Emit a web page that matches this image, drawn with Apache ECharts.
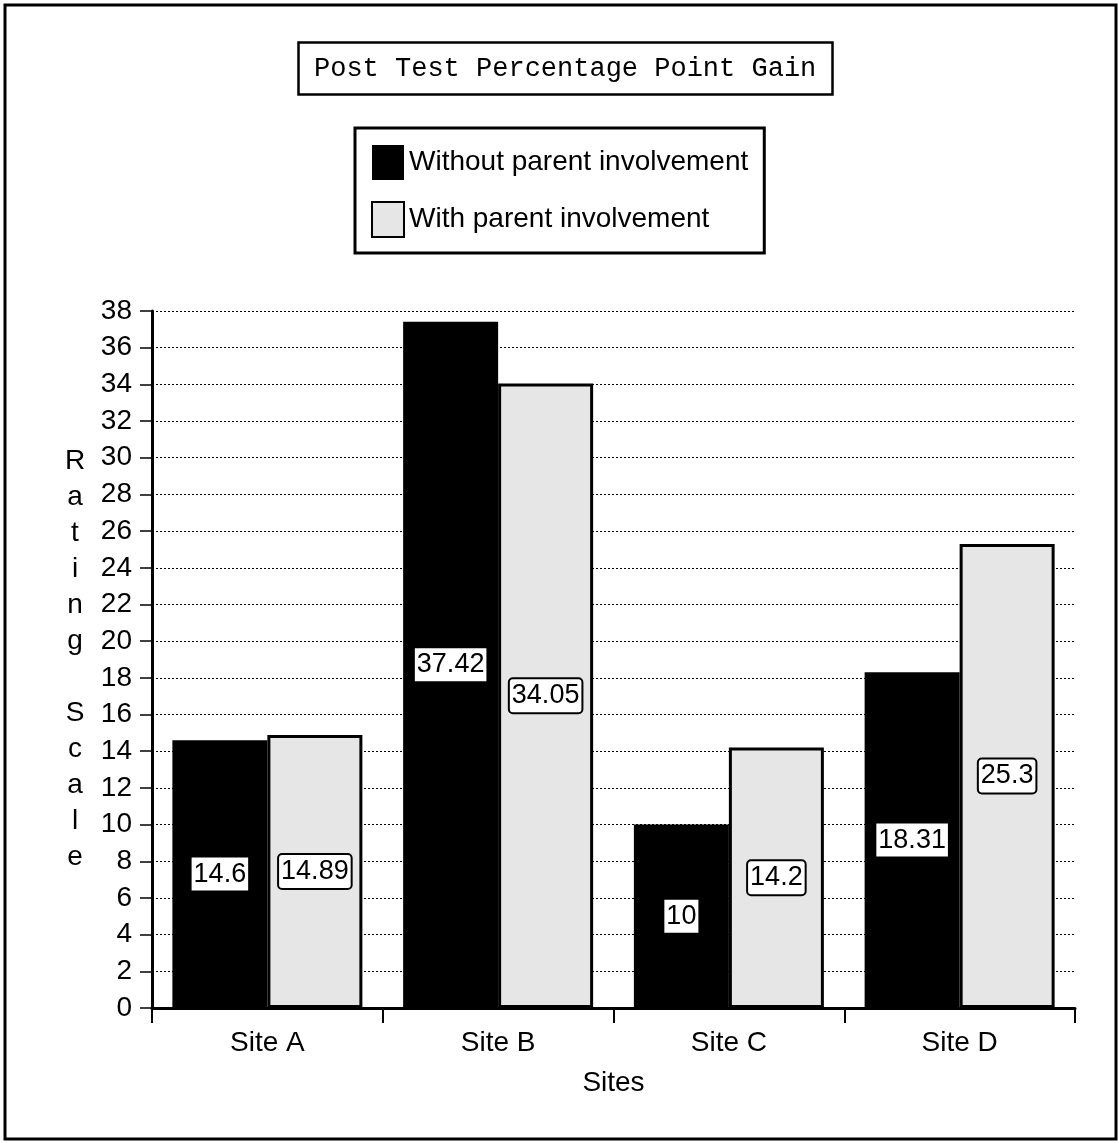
<!DOCTYPE html>
<html>
<head>
<meta charset="utf-8">
<script src="https://cdn.jsdelivr.net/npm/echarts@6/dist/echarts.min.js"></script>
<style>
html,body{margin:0;padding:0;background:#fff;}
#chart{width:1119px;height:1143px;}
</style>
</head>
<body>
<div id="chart"></div>
<script>
const categories = ['Site A', 'Site B', 'Site C', 'Site D'];
const withoutParent = [14.6, 37.42, 10, 18.31];
const withParent = [14.89, 34.05, 14.2, 25.3];
const seriesNames = ['Without parent involvement', 'With parent involvement'];
const titleText = 'Post Test Percentage Point Gain';
const xAxisName = 'Sites';
const yAxisName = 'Rating Scale';

const FONT = 'Liberation Sans';
const chart = echarts.init(document.getElementById('chart'), null, {renderer: 'canvas'});

const option = {
  backgroundColor: '#fff',
  animation: false,
  graphic: [{
    type: 'rect',
    shape: {x: 5, y: 5, width: 1111, height: 1134},
    style: {fill: 'none', stroke: '#000', lineWidth: 3},
    silent: true
  }],
  title: {
    text: titleText,
    left: 298,
    top: 42,
    padding: [13, 16, 13, 16],
    borderColor: '#000',
    borderWidth: 2.5,
    backgroundColor: '#fff',
    textStyle: {fontFamily: 'Liberation Mono', fontSize: 27, fontWeight: 'normal', color: '#000'}
  },
  legend: {
    orient: 'vertical',
    left: 355,
    top: 128,
    padding: [17, 16, 15, 16],
    itemGap: 21,
    itemWidth: 32,
    itemHeight: 35,
    borderColor: '#000',
    borderWidth: 3,
    backgroundColor: '#fff',
    icon: 'rect',
    textStyle: {fontFamily: FONT, fontSize: 28, color: '#000'},
    data: seriesNames
  },
  grid: {left: 152, right: 44, top: 311, bottom: 135, containLabel: false},
  xAxis: {
    type: 'category',
    data: categories,
    name: xAxisName,
    nameLocation: 'middle',
    nameGap: 75,
    nameTextStyle: {fontFamily: FONT, fontSize: 28, color: '#000', verticalAlign: 'middle'},
    axisLine: {lineStyle: {color: '#000', width: 3}},
    axisTick: {show: true, alignWithLabel: false, inside: false, length: 15, lineStyle: {color: '#000', width: 2}},
    axisLabel: {fontFamily: FONT, fontSize: 28, color: '#000', margin: 21},
    splitLine: {show: false}
  },
  yAxis: {
    type: 'value',
    min: 0,
    max: 38,
    interval: 2,
    name: yAxisName.split('').join('\n'),
    nameLocation: 'middle',
    nameRotate: 0,
    nameGap: 77,
    nameTextStyle: {fontFamily: FONT, fontSize: 28, color: '#000', lineHeight: 36, align: 'center', verticalAlign: 'middle'},
    axisLine: {show: true, lineStyle: {color: '#000', width: 3}},
    axisTick: {show: true, length: 12, lineStyle: {color: '#000', width: 1.5}},
    axisLabel: {fontFamily: FONT, fontSize: 28, color: '#000', margin: 20},
    splitLine: {show: true, lineStyle: {color: '#000', width: 1, type: [2, 2]}}
  },
  series: [
    {
      name: seriesNames[0],
      type: 'bar',
      data: withoutParent,
      barWidth: 95,
      barGap: '0%',
      itemStyle: {color: '#000'},
      label: {
        show: true,
        position: 'inside',
        fontFamily: FONT,
        fontSize: 27,
        color: '#000',
        backgroundColor: '#fff',
        padding: [4, 2, 2, 2]
      }
    },
    {
      name: seriesNames[1],
      type: 'bar',
      data: withParent,
      barWidth: 95,
      barGap: '0%',
      itemStyle: {color: '#e6e6e6', borderColor: '#000', borderWidth: 3},
      label: {
        show: true,
        position: 'inside',
        fontFamily: FONT,
        fontSize: 27,
        color: '#000',
        backgroundColor: '#fff',
        borderColor: '#000',
        borderWidth: 2,
        borderRadius: 3,
        padding: [4, 2, 2, 2]
      }
    }
  ]
};
chart.setOption(option);
</script>
</body>
</html>
